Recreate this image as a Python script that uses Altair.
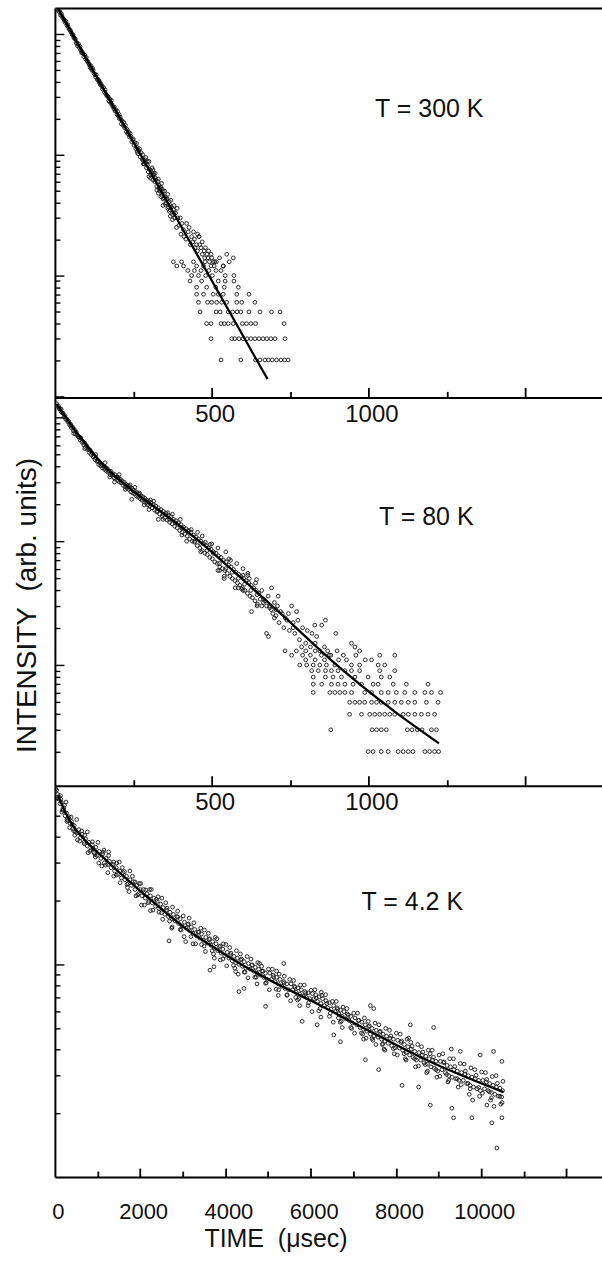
import altair as alt
import pandas as pd

FONT = "Liberation Sans"

# ---------------- Panel 1 : T = 300 K ----------------
p1_band = [(8,1600),(12,1540),(15,1560),(18,1430),(22,1420),(25,1360),(28,1330),(32,1250),(35,1270),(38,1180),
 (42,1150),(45,1100),(48,1080),(52,1030),(55,990),(58,980),(62,920),(65,910),(68,850),(72,800),(75,830),(78,770),
 (82,740),(85,720),(88,700),(92,650),(95,670),(98,620),(102,600),(105,590),(108,570),(112,530),(115,545),(118,500),
 (122,500),(125,470),(128,460),(132,460),(135,420),(138,420),(142,395),(145,380),(148,380),(152,350),(155,360),(158,330),
 (162,320),(165,310),(168,305),(172,280),(175,290),(178,270),(182,260),(185,250),(188,240),(192,230),(195,235),(198,215),
 (202,210),(205,200),(208,205),(212,180),(215,190),(218,175),(222,168),(225,175),(228,155),(232,150),(235,155),(238,140),
 (242,142),(245,128),(248,133),(252,120),(255,126),(258,112),(262,115),(265,102),(268,108),(272,96),(275,104),(278,92),
 (282,90),(285,84),(288,86),(292,78),(295,82),(298,72),(302,76),(305,68),(308,72),(312,62),(315,68),(318,60),
 (322,62),(325,55),(328,60),(332,52),(335,50),(338,54),(342,46),(345,50),(348,44),(352,45),(355,40),(358,43),
 (362,37),(365,41),(368,35),(372,37),(375,32),(378,35)]
p1_scatter = [(20,1480),(40,1200),(60,940),(80,790),(100,640),(120,520),(140,410),(160,345),(180,282),(200,228),
 (220,185),(240,150),(260,124),(280,100),(290,95),(300,88),(310,78),(312,75),(320,70),(330,63),(340,58),(350,50),
 (360,47),(370,42),(380,38),(385,33),(390,36),(300,66),(325,51),(345,43),(365,34),
 (395,26),(402,22),(410,24),(418,20),(425,23),(432,18),(440,19),(447,17),(455,16),(462,18),(470,15),(478,14),
 (485,15),(493,13),(500,14),(508,12),(382,30),(388,25),(375,29),(368,31),(360,36),(352,39),(345,38),(338,45),
 (330,48),(442,23),(460,21),(420,27),(400,30),(480,17),(490,16),(515,13),(470,19),(455,22),(459,21),(569,14),(537,12),
 (250,135),(262,105),(270,112),(282,84),(295,88),(305,64),(318,65),(332,56),(342,52),(355,44),(368,38),(380,33),
 (392,30),(405,27),(412,21),(428,25),(436,21),(445,20),(452,18),(466,17),(476,16),(488,14),(498,15),(505,13),
 (525,14),(548,15),(556,13),(230,162),(210,196),(190,248),(170,300),(150,370),(130,440),(110,555),(90,690),(70,830),
 (30,1300),(50,1060),(85,700),(115,520),(145,395),(175,275),(205,215),(235,148),(265,110),(288,91),(315,70),(335,53)]
p1_rows = {
    13: [378, 404, 442, 479, 510],
    12: [389, 410, 452, 474, 498, 537],
    11: [424, 445, 466, 491, 514, 530],
    10: [436, 458, 481, 502, 543, 571],
    9: [431, 468, 521, 543, 571],
    8: [452, 484, 513, 540, 585],
    7: [452, 474, 505, 521, 537, 580, 619],
    6: [458, 487, 500, 516, 532, 548, 580, 596, 638],
    5: [463, 514, 527, 553, 567, 581, 593, 619, 654, 691, 718],
    4: [484, 498, 530, 540, 553, 569, 598, 611, 625, 640, 731],
    3: [498, 564, 574, 587, 600, 613, 625, 638, 651, 664, 676, 689, 702, 734],
    2: [530, 593, 640, 654, 670, 681, 693, 707, 721, 733, 744],
}
p1_fit = [(10, 1622), (678, 1.39)]

# ---------------- Panel 2 : T = 80 K ----------------
p2_band = [(5,1290),(8,1230),(11,1240),(14,1170),(17,1180),(20,1110),(23,1090),(26,1080),(29,1010),(32,1030),(35,960),
 (38,970),(41,920),(44,930),(47,870),(50,880),(53,820),(56,840),(59,780),(62,800),(65,740),(68,760),(71,720),(74,700),
 (77,690),(80,660),(83,680),(86,630),(89,640),(92,600),(95,620),(98,570),(101,590),(104,550),(107,560),(110,520),
 (113,540),(116,500),(119,515),(122,480),(125,490),(128,455),(131,470),(134,440),(137,445),(140,415),(143,430),
 (146,405),(149,415),(152,390),(155,405),(158,380),(161,395),(164,370),(167,385),(170,360),(173,370),(176,345),
 (179,365),(182,340),(185,350),(188,325),(191,345),(194,320),(197,330),(200,310),(203,325),(206,300),(209,315),
 (212,295),(215,305),(218,282),(221,300),(224,275),(227,288),(230,268),(233,282),(236,262),(239,275),(242,250),
 (245,268),(248,245),(251,258),(254,240),(257,252),(260,232),(263,246),(266,226),(269,240),(272,220),(275,232),
 (278,214),(281,228),(284,208),(287,222),(290,204),(293,215),(296,196),(299,210),(302,192),(306,205),(310,186),
 (314,198),(318,178),(322,192),(326,172),(330,186),(334,166),(338,180),(342,160),(346,174),(350,154),(354,168),
 (358,148),(362,162),(366,142),(370,158),(374,138),(378,150),(382,132),(386,146),(390,128),(394,140),(398,122),
 (402,136),(406,118),(410,130),(414,114),(418,126),(422,110),(426,122),(430,104),(434,118),(438,100),(442,112),
 (446,98),(450,108),(454,92),(458,104),(462,88),(466,100),(470,84),(474,96),(478,80),(482,92),(486,78),(490,88),
 (494,74),(498,86),(502,72),(506,82),(510,68),(514,80),(518,66),(522,76),(526,62),(530,74),(534,60),(538,70),
 (542,58),(546,68),(550,55),(554,64),(558,52),(562,62),(566,50),(570,59),(574,48),(578,56),(582,46),(586,54),
 (590,44),(594,52),(598,42),(602,50),(606,40),(610,48),(614,38),(618,46),(622,36),(626,44),(630,35),(634,42),
 (638,33),(642,40),(646,31),(650,38)]
p2_scatter = [(245,218),(330,150),(400,150),(455,118),(470,110),(500,95),(520,88),(545,82),(560,70),(580,66),(600,60),
 (615,55),(520,58),(540,52),(575,42),(600,40),(620,50),(640,46),(660,40),(680,36),(660,30),(670,33),(690,28),(700,32),
 (710,30),(720,27),(735,24),(745,26),(760,22),(775,23),(790,20),(805,19),(820,18),(835,17),(700,24),(715,22),(730,20),
 (748,19),(765,18),(780,16),(800,15),(815,14),(830,15),(845,13),(860,14),(875,12),(655,34),(665,32),(675,30),(685,29),
 (695,26),(705,25),(957,14),(1036,12),(1084,12),(972,13),(851,21),(863,23),(829,21),(896,18),(946,15),(771,27),
 (755,30),(712,36),(691,42),(643,49),(596,41),(627,27),(681,17),(734,13),(675,18),(755,12),(787,14),
 (160,430),(175,330),(205,345),(225,262),(255,272),(285,196),(315,210),(345,150),(375,165),(405,112),(435,124),
 (465,82),(495,94),(525,58),(555,72),(585,42),(615,53),(645,30),(190,300),(240,285),(300,180),(360,170),(420,100),
 (480,98),(540,50),(600,53),(60,740),(95,560),(130,500),
 (305,215),(325,175),(345,165),(365,150),(385,140),(405,128),(425,120),(445,100),(465,96),(485,84),(505,80),
 (525,66),(545,60),(565,56),(585,50),(605,45),(625,40),(645,37),(665,34),(685,30),(705,28),(725,26),(740,23),
 (760,20),(20,1160),(50,850),(80,690),(110,545),(140,440),(200,330),(230,280),(270,245)]
p2_rows = {
    13: [770, 800, 830, 870, 900],
    12: [790, 815, 850, 880, 920, 960],
    11: [800, 830, 860, 905, 930, 990, 1010],
    10: [781, 803, 824, 845, 866, 893, 946, 972, 1031, 1052],
    9: [819, 840, 863, 882, 903, 925, 946, 972, 1036, 1084],
    8: [824, 863, 887, 914, 957, 999, 1041, 1068],
    7: [824, 851, 882, 903, 925, 951, 978, 1015, 1031, 1079, 1121, 1190],
    6: [824, 877, 893, 909, 925, 946, 988, 1010, 1041, 1063, 1089, 1116, 1148, 1180, 1201, 1230],
    5: [940, 957, 972, 988, 1010, 1026, 1041, 1063, 1084, 1105, 1127, 1148, 1185, 1222],
    4: [940, 978, 1004, 1020, 1036, 1052, 1068, 1084, 1111, 1127, 1148, 1169, 1190, 1211],
    3: [880, 1012, 1026, 1041, 1057, 1124, 1139, 1156, 1171, 1201, 1217],
    2: [999, 1015, 1041, 1063, 1095, 1111, 1127, 1142, 1180, 1195, 1211, 1224],
}
p2_fit = [(6,1274),(40,960),(70,750),(100,600),(125,500),(150,425),(180,358),(215,300),(250,253),
          (350,165),(458,101),(574,56),(723,25.6),(893,10.3),(1084,4.2),(1225,2.33)]

# ---------------- Panel 3 : T = 4.2 K ----------------
p3_band = [(20,6700),(60,6300),(90,6150),(120,5700),(150,5800),(180,5350),(210,5450),(240,5000),(270,5150),(300,4750),
 (330,4950),(360,4600),(390,4700),(420,4350),(450,4500),(480,4200),
 (520,4150),(560,4300),(600,3950),(640,4100),(680,3750),(720,3900),(760,3600),(800,3750),(840,3450),(880,3650),(920,3350),(960,3550),(990,3250),
 (1040,3400),(1080,3150),(1120,3300),(1160,3000),(1200,3150),(1240,2950),(1280,3050),(1320,2850),(1360,2950),(1400,2750),(1440,2850),(1480,2650),
 (1520,2750),(1560,2550),(1600,2700),(1640,2500),(1680,2600),(1720,2400),(1760,2500),(1800,2350),(1840,2450),(1880,2250),(1920,2350),(1960,2150),(2000,2250),
 (2040,2100),(2080,2250),(2120,2050),(2160,2150),(2200,1980),(2240,2100),(2280,1950),(2320,2050),(2360,1880),(2400,1980),(2440,1830),(2480,1920),
 (2540,1850),(2580,1720),(2620,1800),(2660,1680),(2700,1760),(2740,1640),(2780,1720),(2820,1600),(2860,1680),(2900,1560),(2940,1640),(2980,1520),
 (3040,1580),(3080,1480),(3120,1540),(3160,1440),(3200,1500),(3240,1400),(3280,1460),(3320,1360),(3360,1420),(3400,1330),(3440,1390),(3480,1300),
 (3540,1340),(3580,1260),(3620,1310),(3660,1230),(3700,1280),(3740,1190),(3780,1250),(3820,1160),(3860,1210),(3900,1130),(3940,1180),(3980,1100),
 (4040,1140),(4080,1070),(4120,1110),(4160,1040),(4200,1090),(4240,1020),(4280,1070),(4320,1000),(4360,1050),(4400,980),(4440,1030),(4480,960),
 (4540,1010),(4580,950),(4620,990),(4660,930),(4700,970),(4740,910),(4780,950),(4820,890),(4860,930),(4900,870),(4940,910),(4980,850),
 (5040,910),(5080,850),(5120,890),(5160,830),(5200,870),(5240,810),(5280,850),(5320,790),(5360,830),(5400,770),(5440,810),(5480,760),
 (5540,810),(5580,760),(5620,790),(5660,740),(5700,775),(5740,725),(5780,760),(5820,710),(5860,745),(5900,700),(5940,735),(5980,690),
 (6040,730),(6080,690),(6120,720),(6160,670),(6200,705),(6240,655),(6280,690),(6320,640),(6360,675),(6400,625),(6440,660),(6480,615),
 (6540,640),(6580,600),(6620,625),(6660,585),(6700,610),(6740,570),(6780,600),(6820,555),(6860,585),(6900,545),(6940,570),(6980,530),
 (7040,560),(7080,520),(7120,545),(7160,505),(7200,535),(7240,495),(7280,520),(7320,485),(7360,510),(7400,470),(7440,500),(7480,460),
 (7540,490),(7580,455),(7620,480),(7660,445),(7700,470),(7740,435),(7780,460),(7820,425),(7860,450),(7900,415),(7940,445),(7980,405),
 (8040,440),(8080,405),(8120,430),(8160,395),(8200,420),(8240,385),(8280,410),(8320,375),(8360,400),(8400,365),(8440,390),(8480,355),
 (8540,385),(8580,355),(8620,375),(8660,345),(8700,370),(8740,340),(8780,360),(8820,330),(8860,355),(8900,325),(8940,350),(8980,315),
 (9040,350),(9080,320),(9120,345),(9160,310),(9200,335),(9240,300),(9280,330),(9320,295),(9360,320),(9400,290),(9440,315),(9480,285),
 (9540,310),(9580,285),(9620,305),(9660,275),(9700,300),(9740,270),(9780,295),(9820,265),(9860,290),(9900,260),(9940,285),(9980,255),
 (10040,285),(10080,260),(10120,280),(10160,255),(10200,275),(10240,250),(10280,270),(10320,245),(10360,265),(10400,240),(10440,262),(10480,238),(10500,255)]
p3_scatter = [(40,6600),(75,6000),(135,6000),(165,5200),(225,5600),(285,4800),(345,4400),(405,4550),(465,4050),(580,3800),
 (700,4050),(820,3400),(900,3500),(950,3200),(1100,2900),(1260,3250),(1380,2600),(1450,3000),(1150,3450),(1580,2850),
 (1700,2300),(1820,2600),(1900,2100),(1980,2400),(2100,1900),(2220,2250),(2300,1800),(2420,2080),(2500,1750),(2677,1290),
 (2600,1950),(2750,1500),(2880,1780),(2960,1450),(3068,1280),(3150,1650),(3300,1250),(3420,1480),(3500,1220),(3600,1400),
 (3720,1120),(3800,1320),(3880,1050),(3950,1250),(3638,940),(3732,975),(4100,1200),(4220,960),(4350,1120),(4460,920),
 (4300,900),(4317,745),(4434,771),(4942,635),(4600,1060),(4720,870),(4850,980),(4960,820),(4800,1010),(5100,950),
 (5250,760),(5380,880),(5450,720),(5200,930),(5370,1010),(5600,840),(5720,690),(5850,800),(5950,660),(5650,700),
 (5801,540),(6152,520),(6541,466),(6698,433),(6100,760),(6220,620),(6350,720),(6460,590),(6250,740),(6600,670),
 (6720,540),(6850,620),(6960,500),(6650,560),(7100,590),(7220,470),(7350,540),(7460,440),(7300,450),(7401,640),
 (7479,620),(7284,356),(7596,320),(7600,520),(7720,400),(7850,490),(7960,380),(7680,420),(8100,470),(8220,360),
 (8350,430),(8460,330),(8300,450),(8143,270),(8532,265),(8338,520),(8600,410),(8720,310),(8850,395),(8960,295),
 (8800,380),(8806,218),(8884,505),(9100,380),(9220,280),(9350,360),(9460,265),(9300,400),(9314,211),(9352,190),
 (9508,390),(9600,340),(9720,245),(9850,320),(9960,240),(9800,230),(9782,190),(9977,375),(10134,218),(10251,180),
 (10368,137),(10485,190),(10290,390),(10485,350),(10100,310),(10220,230),(10350,300),(10460,220),(10300,215),
 (260,5800),(280,4700),(510,4800),(530,3850),(760,4200),(780,3350),(1010,3750),(1030,3000),(1260,3380),(1240,2700),
 (1510,3030),(1530,2420),(1760,2750),(1740,2200),(2010,2400),(2030,1900),(2260,2250),(2240,1790),(2510,2050),(2530,1630),
 (2760,1860),(2740,1480),(3010,1690),(3030,1350),(3260,1570),(3240,1250),(3510,1450),(3530,1150),(3760,1340),(3740,1070),
 (4010,1240),(4030,985),(4260,1160),(4240,925),(4510,1090),(4530,865),(4760,1020),(4740,810),(5010,950),(5030,760),
 (5260,900),(5240,715),(5510,850),(5530,675),(5760,800),(5740,640),(6010,755),(6030,600),(6260,715),(6240,565),
 (6510,670),(6530,535),(6760,630),(6740,505),(7010,590),(7030,475),(7260,560),(7240,445),(7510,530),(7530,420),
 (7760,500),(7740,395),(8010,475),(8030,375),(8260,445),(8240,355),(8510,420),(8530,333),(8760,395),(8740,315),
 (9010,375),(9030,298),(9260,360),(9240,285),(9510,342),(9530,272),(9760,326),(9740,260),(10010,312),(10030,248),
 (10260,297),(10240,236),(10510,282),(10490,224),
 (130,6220),(190,5300),(380,4930),(440,4250),(630,4240),(690,3690),(880,3770),(940,3280),(1130,3370),(1190,2930),
 (1380,3030),(1440,2630),(1630,2730),(1690,2380),(1880,2440),(1940,2120),(2130,2240),(2190,1950),(2380,2020),(2440,1760),
 (2630,1840),(2690,1600),(2880,1670),(2940,1460),(3130,1550),(3190,1350),(3380,1420),(3440,1240),(3630,1320),(3690,1160),
 (3880,1220),(3940,1060),(4130,1130),(4190,990),(4380,1060),(4440,920),(4630,995),(4690,870),(4880,930),(4940,815),
 (5130,875),(5190,765),(5380,820),(5440,715),(5630,780),(5690,680),(5880,735),(5940,640),(6130,695),(6190,605),
 (6380,655),(6440,570),(6630,615),(6690,535),(6880,578),(6940,505),(7130,546),(7190,475),(7380,514),(7440,448),
 (7630,485),(7690,424),(7880,461),(7940,402),(8130,436),(8190,380),(8380,412),(8440,360),(8630,387),(8690,338),
 (8880,366),(8940,320),(9130,348),(9190,304),(9380,331),(9440,290),(9630,315),(9690,276),(9880,301),(9940,264),
 (10130,288),(10190,252),(10380,276),(10440,240)]
p3_rows = {}
p3_fit = [(78,6240),(200,5430),(400,4570),(700,3850),(1077,3260),(1500,2720),(2092,2140),(3000,1510),(4045,1096),
          (5000,851),(6000,676),(7440,479),(8884,343),(10523,251)]

# ---------------- axes: tick values / labels ----------------
xt_short = [250, 500, 750, 1000, 1250, 1500]
xt_short_major = [500, 1000, 1500]
xl_short = [500, 1000]
xt_long = [1000, 2000, 3000, 4000, 5000, 6000, 7000, 8000, 9000, 10000, 11000, 12000]
xt_long_major = [2000, 4000, 6000, 8000, 10000, 12000]
xl_long = [0, 2000, 4000, 6000, 8000, 10000]

yt_1 = [1,2,3,4,5,6,7,8,9,10,20,30,40,50,60,70,80,90,100,200,300,400,500,600,700,800,900,1000]
yt_2 = [2,3,4,5,6,7,8,9,10,20,30,40,50,60,70,80,90,100,200,300,400,500,600,700,800,900,1000]
yt_3 = [200,300,400,500,600,700,800,900,1000,2000,3000,4000,5000,6000]
y_major = [1, 10, 100, 1000]

labels = ["T = 300 K", "T = 80 K", "T = 4.2 K"]

W = 548
INK = "#111"


def table(band, scatter, rows):
    recs = [{"t": t, "I": v} for t, v in band + scatter]
    for lvl, ts in rows.items():
        recs += [{"t": t, "I": lvl} for t in ts]
    return pd.DataFrame(recs)


def cond(major, big, small):
    return {"condition": {"test": f"indexof({list(major)}, datum.value) >= 0", "value": big}, "value": small}


def panel(band, scatter, rows, fit, label, lab_x, lab_y, xdom, ydom, H,
          xticks, xmajor, xlabels, yticks, lab_pad, lab_size, xbig, xsmall,
          xtitle=None, ytitle=None, top_border=False):
    pts = table(band, scatter, rows)
    fitdf = pd.DataFrame(fit, columns=["t", "I"])
    xs = alt.Scale(domain=xdom, nice=False, zero=False)
    ys = alt.Scale(type="log", domain=ydom, nice=False)

    ax_x_ticks = alt.Axis(orient="top", offset=-H, values=xticks, labels=False, domain=False,
                          grid=False, title=None, tickColor="black", tickWidth=1.8,
                          tickSize=cond(xmajor, xbig, xsmall))
    ax_y_ticks = alt.Axis(orient="right", offset=-W, values=yticks, labels=False, domain=False,
                          grid=False, title=None, tickColor="black", tickWidth=1.4,
                          tickSize=cond(y_major, 9, 5))
    xkw = dict(orient="bottom", values=xlabels, ticks=False, tickSize=0, domain=True,
               domainColor="black", domainWidth=2, grid=False,
               labelPadding=lab_pad, labelFontSize=lab_size, labelFont=FONT, labelColor=INK,
               labelOffset=3, format="d", labelFlush=False)
    if xtitle:
        xkw.update(title=xtitle, titleX=221, titleY=70, titleAlign="center",
                   titleBaseline="alphabetic", titleFontSize=25, titleFont=FONT,
                   titleFontWeight="normal", titleColor=INK)
    else:
        xkw.update(title=None)
    ax_x_labels = alt.Axis(**xkw)
    ykw = dict(orient="left", ticks=False, labels=False, domain=True, domainColor="black",
               domainWidth=2, grid=False)
    if ytitle:
        ykw.update(title=ytitle, titleX=-27, titleY=208, titleAngle=270,
                   titleAlign="center", titleBaseline="middle", titleFontSize=28,
                   titleFont=FONT, titleFontWeight="normal", titleColor=INK)
    else:
        ykw.update(title=None)
    ax_y_left = alt.Axis(**ykw)

    points = alt.Chart(pts).mark_point(shape="circle", filled=False, size=14, strokeWidth=1.0,
                                       color="#1e1e1e", opacity=0.95, clip=True).encode(
        x=alt.X("t:Q", scale=xs, axis=ax_x_ticks),
        y=alt.Y("I:Q", scale=ys, axis=ax_y_ticks),
    )
    line = alt.Chart(fitdf).mark_line(color="black", strokeWidth=2.3, clip=True,
                                      interpolate="monotone").encode(
        x=alt.X("t:Q", scale=xs, axis=ax_x_labels),
        y=alt.Y("I:Q", scale=ys, axis=ax_y_left),
    )
    text = alt.Chart(pd.DataFrame({"label": [label]})).mark_text(
        font=FONT, fontSize=25, align="center", baseline="middle", color=INK).encode(
        x=alt.value(lab_x), y=alt.value(lab_y), text="label:N")
    layers = [points, line, text]
    if top_border:
        border = alt.Chart(fitdf).mark_line(opacity=0).encode(
            x=alt.X("t:Q", scale=xs, axis=alt.Axis(orient="top", ticks=False, labels=False, domain=True,
                                                   domainColor="black", domainWidth=2, grid=False,
                                                   title=None)),
            y=alt.Y("I:Q", scale=ys, axis=None),
        )
        layers.append(border)
    return alt.layer(*layers).resolve_axis(x="independent", y="independent").properties(
        width=W, height=H)


c1 = panel(p1_band, p1_scatter, p1_rows, p1_fit, labels[0], 375, 101, [0, 1745], [0.98, 1640], 390,
           xt_short, xt_short_major, xl_short, yt_1, 5, 24, 10, 6, top_border=True)
c2 = panel(p2_band, p2_scatter, p2_rows, p2_fit, labels[1], 372, 120, [0, 1745], [1.06, 1449], 389,
           xt_short, xt_short_major, xl_short, yt_2, 5, 24, 10, 6,
           ytitle="INTENSITY\u00a0 (arb. units)")
c3 = panel(p3_band, p3_scatter, p3_rows, p3_fit, labels[2], 358, 116, [0, 12834], [100, 6920], 392,
           xt_long, xt_long_major, xl_long, yt_3, 24, 22, 9, 6,
           xtitle="TIME\u00a0 (\u03bcsec)")

chart = alt.vconcat(c1, c2, c3, spacing=0, bounds="flush").configure_view(
    stroke=None).properties(
    padding={"left": 13, "top": 7, "right": 0, "bottom": 0}, background="white")

chart.save("out.html", embed_options={"renderer": "svg", "actions": False})
